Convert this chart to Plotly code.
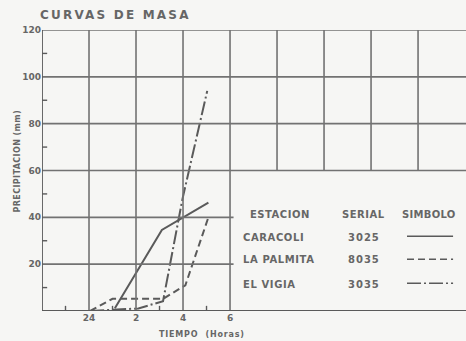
import plotly.graph_objects as go

# Mass curves: accumulated precipitation (mm) against time (hours, 24 = midnight)
hours_caracoli = [1.1, 3.1, 5.08]
precip_caracoli = [1.2, 34.6, 46.3]

hours_palmita = [0.05, 1.0, 3.15, 4.1, 5.08]
precip_palmita = [0.0, 5.2, 5.2, 11.0, 40.0]

hours_vigia = [0.05, 2.1, 3.15, 3.98, 5.03]
precip_vigia = [0.0, 1.1, 4.2, 48.0, 94.0]

x_tick_vals = [0, 2, 4, 6]
x_tick_text = ["24", "2", "4", "6"]
y_tick_vals = [20, 40, 60, 80, 100, 120]

stations = ["CARACOLI", "LA PALMITA", "EL VIGIA"]
serials = ["3025", "8035", "3035"]

INK = "#5a5a5a"
TEXT = "#666666"
BG = "#f6f6f4"
FONT = "DejaVu Sans"
X0, X1 = -2, 16.04

dash_palmita = "7px,4px"
dash_vigia = "14px,3px,2px,3px"


def spaced(s, px):
    return f'<span style="letter-spacing:{px}px">{s}</span>'


def bold(size):
    return dict(family=FONT, size=size, color=TEXT, weight="bold")


fig = go.Figure()

fig.add_trace(go.Scatter(x=hours_caracoli, y=precip_caracoli, mode="lines",
                         line=dict(color=INK, width=2), showlegend=False))
fig.add_trace(go.Scatter(x=hours_palmita, y=precip_palmita, mode="lines",
                         line=dict(color=INK, width=2, dash=dash_palmita), showlegend=False))
fig.add_trace(go.Scatter(x=hours_vigia, y=precip_vigia, mode="lines",
                         line=dict(color=INK, width=2, dash=dash_vigia), showlegend=False))

shapes = []
grid = dict(color="#727272", width=1.6)
# vertical grid: full height up to 6 h, upper part only beyond (table area below)
for xv in [0, 2, 4, 6]:
    shapes.append(dict(type="line", xref="x", yref="y", x0=xv, x1=xv, y0=0, y1=120, line=grid))
for xv in [8, 10, 12, 14]:
    shapes.append(dict(type="line", xref="x", yref="y", x0=xv, x1=xv, y0=60, y1=120, line=grid))
for yv in [60, 80, 100, 120]:
    shapes.append(dict(type="line", xref="x", yref="y", x0=X0, x1=X1, y0=yv, y1=yv, line=grid))
for yv in [20, 40]:
    shapes.append(dict(type="line", xref="x", yref="y", x0=X0, x1=6.15, y0=yv, y1=yv, line=grid))
# axes
shapes.append(dict(type="line", xref="x", yref="y", x0=X0, x1=X1, y0=0, y1=0, line=dict(color=INK, width=1.8)))
shapes.append(dict(type="line", xref="x", yref="y", x0=X0, x1=X0, y0=0, y1=120, line=dict(color=INK, width=1.8)))
# minor ticks
for xv in [-1, 1, 3, 5]:
    shapes.append(dict(type="line", xref="x", yref="y", x0=xv, x1=xv, y0=0, y1=2.2, line=dict(color=INK, width=1.4)))
for yv in [10, 30, 50, 70, 90, 110]:
    shapes.append(dict(type="line", xref="x", yref="y", x0=X0, x1=X0 + 0.22, y0=yv, y1=yv, line=dict(color=INK, width=1.4)))

# symbol table
table_font = bold(10)
annotations = [
    dict(x=8.13, y=41.4, text=spaced("ESTACION", 0.5), showarrow=False, xanchor="center", font=table_font),
    dict(x=11.66, y=41.4, text=spaced("SERIAL", 0.5), showarrow=False, xanchor="center", font=table_font),
    dict(x=14.47, y=41.4, text=spaced("SIMBOLO", 0.3), showarrow=False, xanchor="center", font=table_font),
]
row_y = [31.6, 21.8, 11.5]
dashes = ["solid", dash_palmita, dash_vigia]
for name, serial, yy, dsh in zip(stations, serials, row_y, dashes):
    annotations.append(dict(x=6.48, y=yy, text=spaced(name, 0.6), showarrow=False,
                            xanchor="left", font=table_font))
    annotations.append(dict(x=11.7, y=yy, text=spaced(serial, 1), showarrow=False,
                            xanchor="center", font=table_font))
    fig.add_trace(go.Scatter(x=[13.53, 15.49], y=[yy + 0.3, yy + 0.3], mode="lines",
                             line=dict(color=INK, width=1.5, dash=dsh), showlegend=False))

# axis titles
annotations.append(dict(xref="paper", yref="paper", x=(10 - 42) / 424, y=(311 - 161) / 281,
                        text=spaced("PRECIPITACION (mm)", 0.4), textangle=-90, showarrow=False,
                        font=bold(8)))
annotations.append(dict(xref="paper", yref="paper", x=(157 - 42) / 424, y=(311 - 328) / 281,
                        yanchor="top", text=spaced("TIEMPO  (Horas)", 0.8), showarrow=False,
                        font=bold(8)))

fig.update_layout(
    width=466, height=341,
    margin=dict(l=42, r=0, t=30, b=30),
    paper_bgcolor=BG, plot_bgcolor=BG,
    shapes=shapes, annotations=annotations,
    title=dict(text=spaced("CURVAS DE MASA", 2.2), x=40 / 466, xanchor="left",
               y=1 - 15 / 341, yanchor="middle", xref="container", yref="container",
               font=bold(12)),
    xaxis=dict(range=[X0, X1], showgrid=False, zeroline=False, showline=False,
               tickvals=x_tick_vals, ticktext=x_tick_text, ticks="",
               tickfont=bold(9)),
    yaxis=dict(range=[0, 120], showgrid=False, zeroline=False, showline=False,
               tickvals=y_tick_vals, ticks="", ticklabelstandoff=0,
               tickfont=bold(9)),
)

fig.write_html("out.html")
